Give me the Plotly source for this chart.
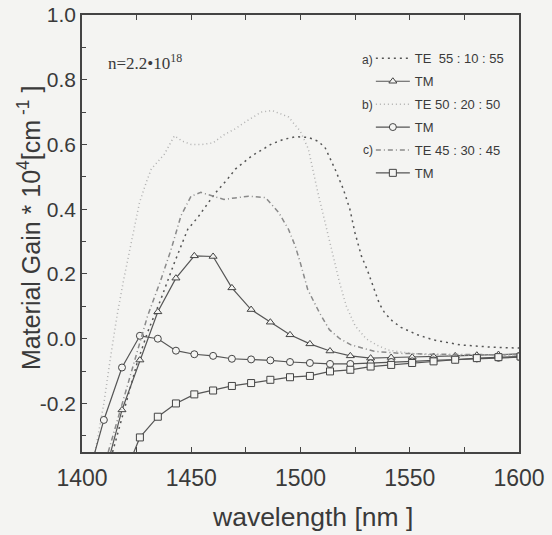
import plotly.graph_objects as go

# ---- data ----
wl_tm = [1401.8, 1410.0, 1418.3, 1426.5, 1434.7, 1443.0, 1451.4, 1460.0, 1468.6, 1477.4,
         1486.2, 1495.2, 1504.3, 1513.5, 1522.8, 1532.1, 1541.5, 1551.1, 1560.9, 1570.8,
         1580.7, 1590.6, 1600.7]
tm_a = [-0.65, -0.43, -0.22, -0.066, 0.083, 0.187, 0.256, 0.254, 0.157, 0.090,
        0.051, 0.012, -0.016, -0.038, -0.053, -0.060, -0.058, -0.057, -0.055, -0.053,
        -0.051, -0.049, -0.047]
tm_b = [-0.45, -0.251, -0.089, 0.009, 0.000, -0.037, -0.048, -0.053, -0.062, -0.064,
        -0.067, -0.072, -0.075, -0.078, -0.078, -0.076, -0.072, -0.070, -0.067, -0.064,
        -0.061, -0.059, -0.057]
tm_c = [None, None, -0.44, -0.305, -0.241, -0.200, -0.172, -0.160, -0.146, -0.137,
        -0.127, -0.119, -0.115, -0.101, -0.096, -0.086, -0.081, -0.075, -0.070, -0.065,
        -0.060, -0.057, -0.055]

wl_te_a = [1414, 1420, 1425, 1430, 1436, 1442.3, 1448.4, 1452.9, 1456.7, 1461, 1466.6,
           1470.2, 1477.8, 1486.9, 1492, 1497.6, 1503.6, 1508, 1511.2, 1515.8, 1519.6,
           1522.6, 1524.9, 1527.9, 1530.7, 1533.7, 1536, 1538.5, 1542, 1546, 1553.5,
           1561, 1573, 1587, 1600]
te_a = [-0.35, -0.20, -0.08, 0.02, 0.12, 0.235, 0.338, 0.374, 0.408, 0.45, 0.493,
        0.524, 0.565, 0.602, 0.615, 0.624, 0.622, 0.61, 0.591, 0.524, 0.462,
        0.40, 0.328, 0.255, 0.21, 0.15, 0.11, 0.08, 0.055, 0.035, 0.012,
        -0.004, -0.019, -0.026, -0.029]

wl_te_b = [1406, 1410, 1413, 1416, 1419, 1423, 1426.3, 1429.4, 1431.7, 1437.7, 1442.3,
           1446, 1450, 1455, 1460, 1465, 1470, 1476, 1482, 1487, 1494.5, 1500, 1503.6,
           1508, 1512, 1514, 1518, 1521, 1525, 1530, 1535, 1540, 1550, 1560, 1580, 1600]
te_b = [-0.35, -0.20, -0.06, 0.07, 0.18, 0.31, 0.42, 0.483, 0.524, 0.57, 0.627,
        0.61, 0.60, 0.60, 0.605, 0.63, 0.648, 0.675, 0.70, 0.705, 0.685, 0.64, 0.586,
        0.45, 0.338, 0.276, 0.17, 0.10, 0.04, 0.0, -0.02, -0.035, -0.045, -0.05, -0.05, -0.05]

wl_te_c = [1412, 1415, 1420, 1425, 1430, 1436, 1440.8, 1445.3, 1449.9, 1454.4, 1459.8,
           1465, 1470, 1476.3, 1484, 1490, 1494.5, 1497.6, 1499.9, 1501, 1503.3, 1508.7,
           1513.2, 1518, 1523.1, 1533.7, 1545, 1560, 1580, 1600]
te_c = [-0.35, -0.28, -0.16, -0.04, 0.07, 0.18, 0.276, 0.38, 0.44, 0.452, 0.441,
        0.43, 0.435, 0.44, 0.436, 0.39, 0.338, 0.286, 0.235, 0.21, 0.152, 0.08,
        0.028, 0.0, -0.019, -0.039, -0.045, -0.048, -0.05, -0.05]

names = ["TE  55 : 10 : 55", "TM", "TE 50 : 20 : 50", "TM", "TE 45 : 30 : 45", "TM"]
group_labels = ["a)", "b)", "c)"]
x_ticks = [1400, 1450, 1500, 1550, 1600]
y_ticks = [-0.2, 0.0, 0.2, 0.4, 0.6, 0.8, 1.0]
y_ticktext = ["-0.2", "0.0", "0.2", "0.4", "0.6", "0.8", "1.0"]

BG = "#f4f4f2"
INK = "#3a3a3a"

fig = go.Figure()

def te(x, y, name, color, dash, g):
    fig.add_trace(go.Scatter(x=x, y=y, mode="lines", name=name, legendgroup=g,
                             line=dict(color=color, width=1.5, dash=dash)))

def tm(x, y, name, symbol, g):
    fig.add_trace(go.Scatter(x=x, y=y, mode="lines+markers", name=name, legendgroup=g,
                             line=dict(color="#555555", width=1.2),
                             marker=dict(symbol=symbol, size=7, color=BG,
                                         line=dict(color="#444444", width=1))))

te(wl_te_a, te_a, names[0], "#555555", "2px,4px", "g1")
tm(wl_tm, tm_a, names[1], "triangle-up", "g2")
te(wl_te_b, te_b, names[2], "#b0b0b0", "1px,3px", "g3")
tm(wl_tm, tm_b, names[3], "circle", "g4")
te(wl_te_c, te_c, names[4], "#8a8a8a", "5px,3px,1px,3px", "g5")
tm(wl_tm, tm_c, names[5], "square", "g6")

fig.update_layout(
    width=552, height=535,
    margin=dict(l=82, r=33, t=15, b=83),
    paper_bgcolor=BG, plot_bgcolor=BG,
    font=dict(family="Liberation Sans, Arial, sans-serif", color=INK),
    showlegend=True,
    legend=dict(x=0.661, y=0.935, xanchor="left", yanchor="top",
                bgcolor="rgba(0,0,0,0)", borderwidth=0,
                font=dict(size=13, color=INK), tracegroupgap=3,
                itemwidth=34),
)
fig.update_xaxes(range=[1400, 1600], tickvals=x_ticks, ticks="inside", ticklen=5,
                 tickcolor="#444", showgrid=False, zeroline=False, automargin=False,
                 showline=True, linecolor="#444", linewidth=1.5, mirror="ticks",
                 tickfont=dict(size=23), ticklabelstandoff=5,
                 minor=dict(dtick=25, tick0=1400, ticks="inside", ticklen=5, tickcolor="#444"))
fig.update_yaxes(range=[-0.35, 1.0], tickvals=y_ticks, ticktext=y_ticktext, ticks="inside",
                 ticklen=5, tickcolor="#444", showgrid=False, zeroline=False, automargin=False,
                 showline=True, linecolor="#444", linewidth=1.5, mirror=True,
                 tickfont=dict(size=21),
                 minor=dict(dtick=0.1, tick0=0, ticks="inside", ticklen=4, tickcolor="#444"))

# axis titles and inset text
fig.add_annotation(text="wavelength [nm ]", xref="paper", yref="paper",
                   x=(312 - 82) / 437, y=(452 - 517) / 437, showarrow=False,
                   font=dict(size=26.5, color=INK), xanchor="center", yanchor="middle")
fig.add_annotation(text="Material Gain * 10<sup>4</sup>[cm<sup> -1</sup> ]",
                   xref="paper", yref="paper", textangle=-90,
                   x=(29 - 82) / 437, y=(452 - 228) / 437, showarrow=False,
                   font=dict(size=25, color=INK), xanchor="center", yanchor="middle")
fig.add_annotation(text="n=2.2\u202210<sup>18</sup>", xref="paper", yref="paper",
                   x=(106 - 82) / 437, y=(452 - 62) / 437, showarrow=False,
                   font=dict(size=17, family="Liberation Serif, Times New Roman, serif", color=INK),
                   xanchor="left", yanchor="middle")
for lab, ypx in zip(group_labels, [60, 105, 150]):
    fig.add_annotation(text=lab, xref="paper", yref="paper",
                       x=(375 - 82) / 437, y=(452 - ypx) / 437, showarrow=False,
                       font=dict(size=12, color=INK), xanchor="right", yanchor="middle")

fig.write_html("out.html", config={"displayModeBar": False},
               post_script="document.body.style.margin='0';")
